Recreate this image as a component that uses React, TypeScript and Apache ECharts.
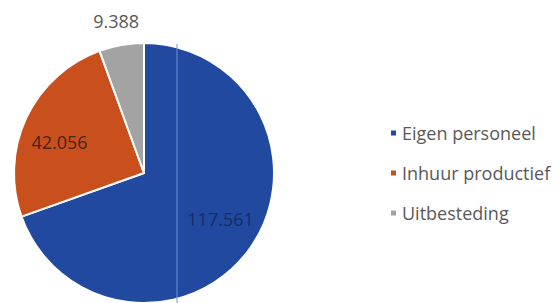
import React, { useEffect, useRef } from "react";
import * as echarts from "echarts";

const categories = ["Eigen personeel", "Inhuur productief", "Uitbesteding"];
const values = [117.561, 42.056, 9.388];
const labels = ["117.561", "42.056", "9.388"];
const colors = ["#2149a0", "#c9501c", "#a3a3a3"];
const labelColors = ["#1a2b66", "#4a2414", "#595959"];
const labelOffsets = [
  { dx: 21, dy: 7 },
  { dx: -23, dy: -2 },
  { dx: -16, dy: -85 },
];

export default function App() {
  const ref = useRef<HTMLDivElement>(null);
  useEffect(() => {
    if (!ref.current) return;
    const chart = echarts.init(ref.current, null, { renderer: "svg" });
    const font = "'Open Sans', 'Noto Sans', sans-serif";
    chart.setOption({
      animation: false,
      backgroundColor: "#ffffff",
      legend: {
        orient: "vertical",
        left: 384,
        top: 117,
        icon: "rect",
        itemWidth: 7,
        itemHeight: 7,
        itemGap: 18,
        data: categories,
        textStyle: {
          fontFamily: font,
          fontSize: 18,
          color: "#595959",
          lineHeight: 22,
        },
      },
      series: [
        {
          type: "pie",
          center: [144, 173],
          radius: 130,
          startAngle: 90,
          clockwise: true,
          avoidLabelOverlap: false,
          itemStyle: { borderColor: "#ffffff", borderWidth: 2 },
          label: {
            show: true,
            position: "inside",
            fontFamily: font,
            fontSize: 18,
            formatter: (p: any) => labels[p.dataIndex],
          },
          labelLine: { show: false },
          labelLayout: (p: any) => labelOffsets[p.dataIndex],
          emphasis: { disabled: true },
          data: categories.map((name, i) => ({
            name,
            value: values[i],
            itemStyle: { color: colors[i] },
            label: { color: labelColors[i] },
          })),
        },
      ],
      graphic: [
        {
          type: "line",
          shape: { x1: 177, y1: 44, x2: 177, y2: 303 },
          style: { stroke: "#6f95d8", lineWidth: 1 },
          z: 100,
        },
      ],
    });
    return () => chart.dispose();
  }, []);
  return (
    <div
      ref={ref}
      style={{ position: "fixed", left: 0, top: 0, width: 559, height: 303 }}
    />
  );
}
